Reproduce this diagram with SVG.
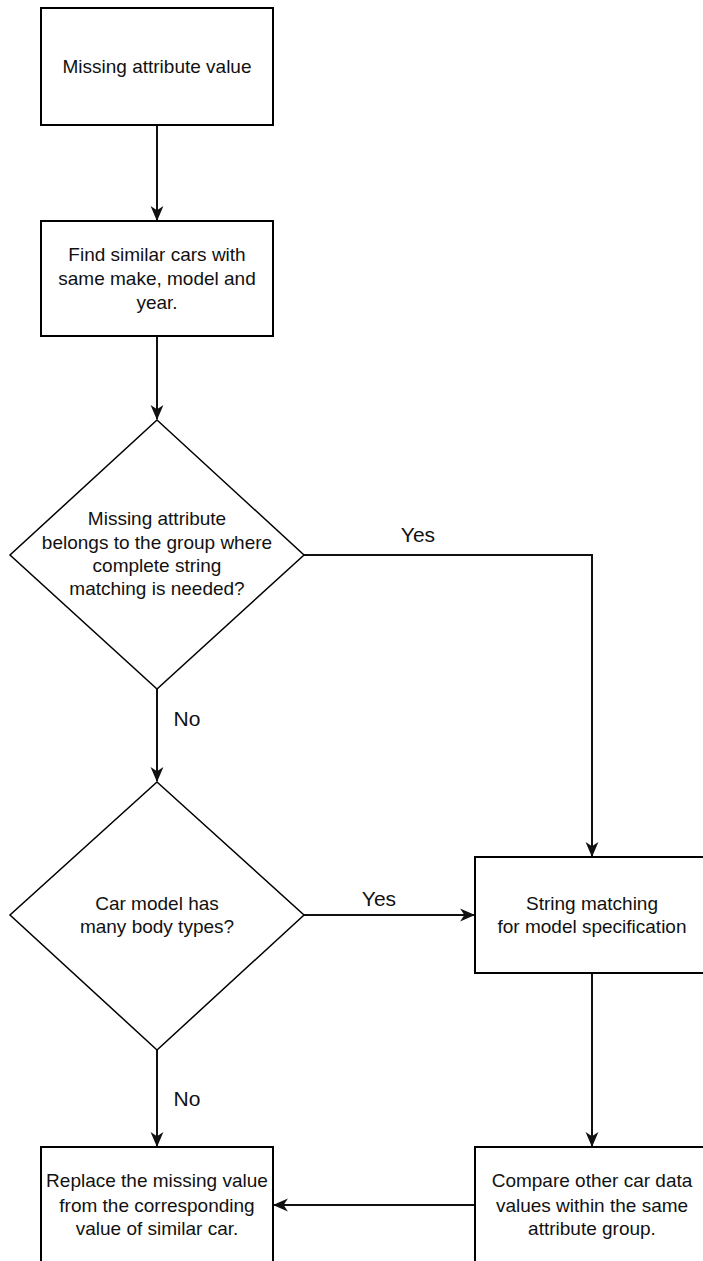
<svg xmlns="http://www.w3.org/2000/svg" width="703" height="1261" viewBox="0 0 703 1261">
<style>
.box{fill:#fff;stroke:#000;stroke-width:2}
.dia{fill:#fff;stroke:#000;stroke-width:1.5}
.t{font-family:"Liberation Sans",Arial,sans-serif;font-size:19px;fill:#111;text-anchor:middle;dominant-baseline:central}
.lbl{font-family:"Liberation Sans",Arial,sans-serif;font-size:21px;fill:#111;text-anchor:middle;dominant-baseline:central}
.c{fill:none;stroke:#111;stroke-width:2}
</style>
<defs>
<marker id="ah" viewBox="0 0 14 14" refX="13" refY="7" markerWidth="15" markerHeight="15" markerUnits="userSpaceOnUse" orient="auto">
<path d="M0,1 L14,7 L0,13 L4,7 Z" fill="#111"/>
</marker>
</defs>
<rect width="703" height="1261" fill="#fff"/>
<g id="connectors">
<path class="c" d="M157,125 L157,220" marker-end="url(#ah)"/>
<path class="c" d="M157,336 L157,419" marker-end="url(#ah)"/>
<path class="c" d="M304,555 L592,555 L592,856" marker-end="url(#ah)"/>
<path class="c" d="M157,689 L157,781" marker-end="url(#ah)"/>
<path class="c" d="M304,915 L474,915" marker-end="url(#ah)"/>
<path class="c" d="M592,973 L592,1146" marker-end="url(#ah)"/>
<path class="c" d="M157,1050 L157,1146" marker-end="url(#ah)"/>
<path class="c" d="M475,1205 L274,1205" marker-end="url(#ah)"/>
<text class="lbl" x="418" y="534">Yes</text>
<text class="lbl" x="379" y="898">Yes</text>
<text class="lbl" x="187" y="718">No</text>
<text class="lbl" x="187" y="1098">No</text>
</g>
<g id="n1">
<rect class="box" x="41" y="8" width="232" height="117"/>
<text class="t" x="157" y="66">Missing attribute value</text>
</g>
<g id="n2">
<rect class="box" x="41" y="221" width="232" height="115"/>
<text class="t" x="157" y="254">Find similar cars with</text>
<text class="t" x="157" y="278">same make, model and</text>
<text class="t" x="157" y="302">year.</text>
</g>
<g id="n3">
<polygon class="dia" points="157,420 304,555 157,689 10,555"/>
<text class="t" x="157" y="518">Missing attribute</text>
<text class="t" x="157" y="542">belongs to the group where</text>
<text class="t" x="157" y="565">complete string</text>
<text class="t" x="157" y="588">matching is needed?</text>
</g>
<g id="n4">
<polygon class="dia" points="157,782 304,915 157,1050 10,915"/>
<text class="t" x="157" y="903">Car model has</text>
<text class="t" x="157" y="926">many body types?</text>
</g>
<g id="n5">
<rect class="box" x="475" y="857" width="234" height="116"/>
<text class="t" x="592" y="903">String matching</text>
<text class="t" x="592" y="926">for model specification</text>
</g>
<g id="n6">
<rect class="box" x="41" y="1147" width="232" height="116"/>
<text class="t" x="157" y="1180">Replace the missing value</text>
<text class="t" x="157" y="1205">from the corresponding</text>
<text class="t" x="157" y="1228">value of similar car.</text>
</g>
<g id="n7">
<rect class="box" x="475" y="1147" width="234" height="116"/>
<text class="t" x="592" y="1180">Compare other car data</text>
<text class="t" x="592" y="1205">values within the same</text>
<text class="t" x="592" y="1228">attribute group.</text>
</g>
</svg>
